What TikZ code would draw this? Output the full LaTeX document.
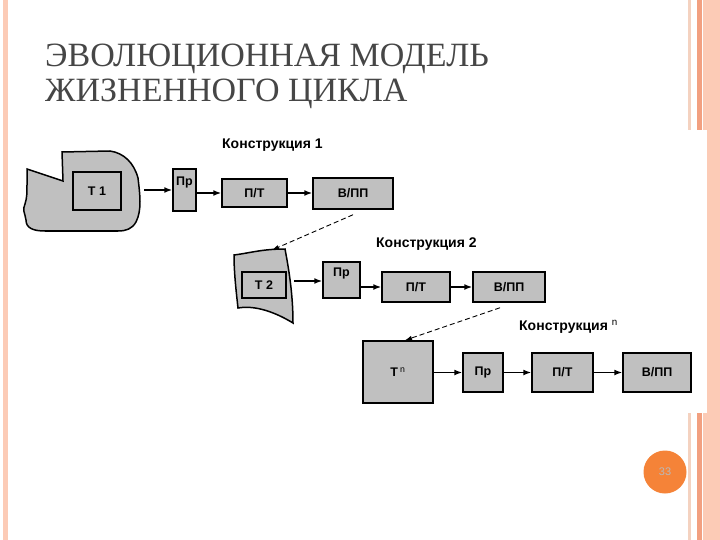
\documentclass[tikz,border=0pt]{standalone}
\usepackage{fontspec}
\setmainfont{Liberation Serif}
\setsansfont{Liberation Sans}
\usetikzlibrary{arrows.meta}
\definecolor{titlegray}{RGB}{70,70,70}
\definecolor{boxgray}{RGB}{192,192,192}
\definecolor{peach}{RGB}{252,203,182}
\definecolor{salmon}{RGB}{242,160,128}
\definecolor{blush}{RGB}{244,210,192}
\definecolor{badge}{RGB}{245,131,56}

\begin{document}
\begin{tikzpicture}[x=1pt,y=-1pt,
  box/.style={draw=black,line width=1.5pt,fill=boxgray,inner sep=0pt,
     font=\sffamily\bfseries\fontsize{12.5}{13}\selectfont},
  blob/.style={draw=black,line width=1.5pt,fill=boxgray},
  caption/.style={anchor=west,inner sep=0pt,font=\sffamily\bfseries\fontsize{14}{15}\selectfont},
  heading/.style={anchor=base west,inner sep=0pt,text=titlegray,font=\fontsize{34}{35}\selectfont},
  flow/.style={-{Latex[length=8pt,width=6pt]},line width=1.5pt},
  dflow/.style={-{Latex[length=7pt,width=4.5pt]},line width=0.9pt,dash pattern=on 5pt off 3pt}]
\useasboundingbox (0,0) rectangle (720,540);
\fill[white] (0,0) rectangle (720,540);
\fill[peach] (3,0) rectangle (8,540);
\fill[peach] (703,0) rectangle (720,540);
\fill[blush] (688,0) rectangle (691,540);
\fill[salmon] (697,0) rectangle (702,540);
\fill[white] (15,130) rectangle (707,413);
\node[heading] (title1) at (45,67) {ЭВОЛЮЦИОННАЯ МОДЕЛЬ};
\node[heading] (title2) at (45,102) {ЖИЗНЕННОГО ЦИКЛА};
\draw[blob] (62,152) -- (110,151) .. controls (124,153) and (134,163) .. (138,178)
  .. controls (140,195) and (142,210) .. (136,222) .. controls (132,229) and (126,231) .. (118,231)
  -- (45,231) .. controls (33,231) and (26,228) .. (26,220) .. controls (25,213) and (22,210) .. (25,204)
  .. controls (27,198) and (27,192) .. (27,185) -- (27,169) -- (63,181) -- cycle;
\draw[blob] (234,255) .. controls (250,253) and (262,249) .. (285,249) .. controls (289,270) and (293,295) .. (293,323)
  .. controls (275,312) and (255,305) .. (238,308) .. controls (236,290) and (234,272) .. (234,255) -- cycle;
\coordinate (b1e) at (144,190);
\coordinate (b2e) at (294,281);
\coordinate (b2n) at (272,250);
\node[caption] (c1) at (222,145) {Конструкция 1};
\node[caption] (c2) at (376,244) {Конструкция 2};
\node[caption] (cn) at (519,327) {Конструкция~\textsuperscript{\mdseries n}};
\node[box,minimum width=48,minimum height=38] (t1) at (97,191) {Т 1};
\node[box,minimum width=23,minimum height=42,text height=17pt,text depth=25pt] (p1) at (184.5,190) {Пр};
\node[box,minimum width=65,minimum height=28] (pt1) at (254.5,193) {П/Т};
\node[box,minimum width=80,minimum height=31] (v1) at (353,193.5) {В/ПП};
\node[box,minimum width=44,minimum height=26] (t2) at (264,285) {Т 2};
\node[box,minimum width=37,minimum height=36,text height=14pt,text depth=22pt] (p2) at (341.5,280) {Пр};
\node[box,minimum width=68,minimum height=30] (pt2) at (416,287) {П/Т};
\node[box,minimum width=72,minimum height=30] (v2) at (509,287) {В/ПП};
\node[box,minimum width=70,minimum height=62] (tn) at (398,372) {Т\,\textsuperscript{\mdseries n}};
\node[box,minimum width=40,minimum height=39] (p3) at (483,372.5) {Пр};
\node[box,minimum width=61,minimum height=39] (pt3) at (562.5,372.5) {П/Т};
\node[box,minimum width=68,minimum height=39] (vn) at (657,372.5) {В/ПП};
\draw[flow] (b1e) -- (b1e -| p1.west);
\draw[flow] (p1.east |- pt1) -- (pt1.west);
\draw[flow] (pt1.east) -- (v1.west |- pt1);
\draw[flow] (b2e) -- (b2e -| p2.west);
\draw[flow] (p2.east |- pt2) -- (pt2.west);
\draw[flow] (pt2.east) -- (v2.west);
\draw[flow] (tn.east |- p3) -- (p3.west);
\draw[flow] (p3.east) -- (pt3.west);
\draw[flow] (pt3.east) -- (vn.west);
\draw[dflow] ([shift={(0,5)}]v1.south) -- (b2n);
\draw[dflow] ([shift={(-9,5)}]v2.south) -- ([xshift=7pt]tn.north);
\node[circle,fill=badge,minimum size=43pt,inner sep=0pt,text=gray!55,
  font=\sffamily\fontsize{11}{12}\selectfont] (pg) at (665,472) {33};
\end{tikzpicture}
\end{document}
